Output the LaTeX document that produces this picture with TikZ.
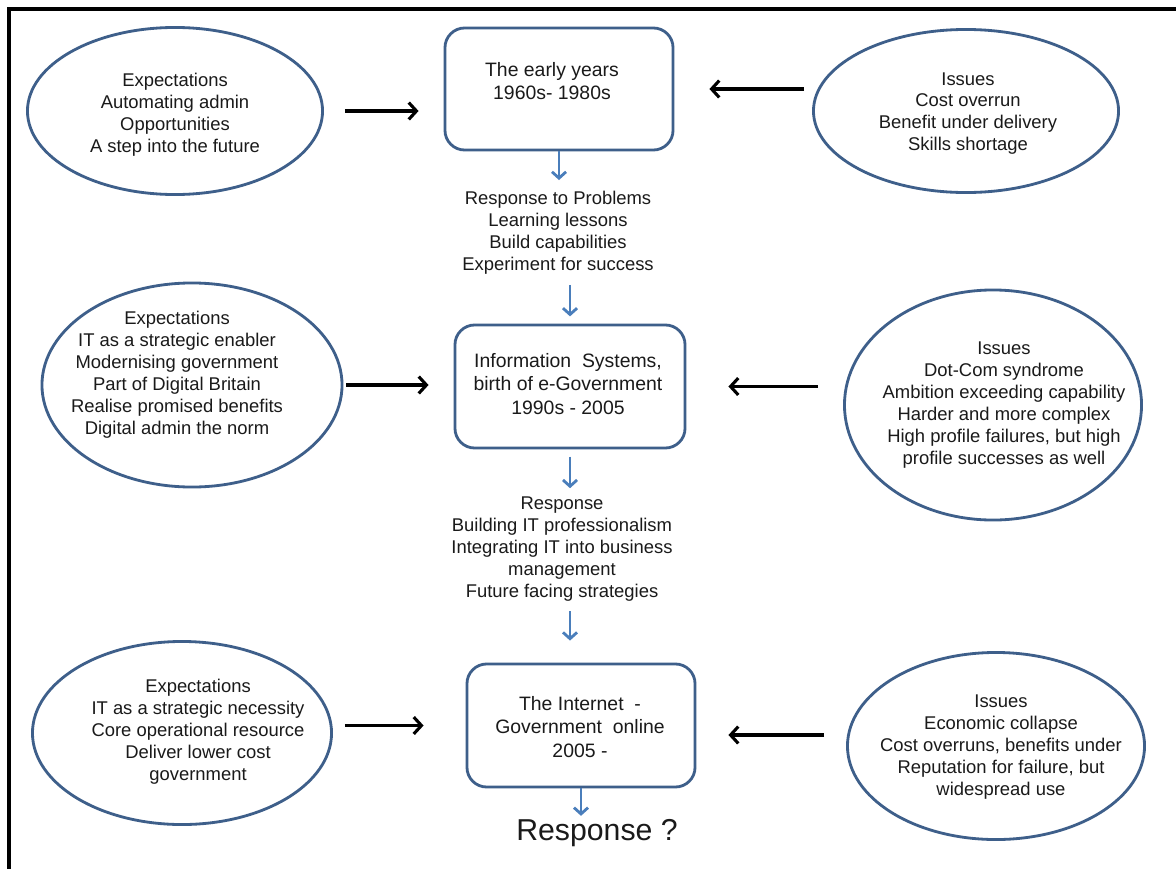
\documentclass[tikz,border=0pt]{standalone}
\usepackage{fontspec}
\setmainfont{Liberation Sans}
\usetikzlibrary{shapes.geometric,arrows.meta,calc}
\definecolor{edgeblue}{HTML}{3E5F8A}
\definecolor{arrowblue}{HTML}{4A7EBB}
\definecolor{txtgrey}{HTML}{1A1A1A}
\begin{document}
\begin{tikzpicture}[x=0.025cm,y=-0.025cm,
  oval/.style={draw=edgeblue, line width=2pt, ellipse, inner sep=0pt},
  era/.style={draw=edgeblue, line width=2pt, rounded corners=14pt, inner sep=0pt},
  body/.style={text=txtgrey, align=center, inner sep=0pt, font=\fontsize{13.1}{15.6}\selectfont},
  erabody/.style={text=txtgrey, align=center, inner sep=0pt, font=\fontsize{13.8}{16.6}\selectfont},
  arr/.style={-{Straight Barb[length=5.5pt,width=12pt]}, line width=2.2pt, black},
  barr/.style={-{Straight Barb[length=4.5pt,width=10pt]}, line width=2pt, arrowblue},
]
\useasboundingbox (0,0) rectangle (1176,868);
\clip (0,0) rectangle (1176,868);
\fill[white] (0,0) rectangle (1176,868);
\draw[line width=2.4pt] (9,9) rectangle (1250,950);

% ellipses
\node[oval, minimum width=7.375cm, minimum height=4.175cm] (e1) at (175,111) {};
\node[oval, minimum width=7.625cm, minimum height=4.075cm] (e4) at (966,111) {};
\node[oval, minimum width=7.5cm, minimum height=5.1cm] (e2) at (192,385) {};
\node[oval, minimum width=7.425cm, minimum height=5.75cm] (e5) at (993,405) {};
\node[oval, minimum width=7.475cm, minimum height=4.575cm] (e3) at (182,733) {};
\node[oval, minimum width=7.425cm, minimum height=4.675cm] (e6) at (996,746) {};

\node[body] (te1) at (175,114.5) {Expectations\\Automating admin\\Opportunities\\A step into the future};
\node[body] (te4) at (968,113.5) {Issues\\Cost overrun\\Benefit under delivery\\Skills shortage};
\node[body] (te2) at (177,375) {Expectations\\IT as a strategic enabler\\Modernising government\\Part of Digital Britain\\Realise promised benefits\\Digital admin the norm};
\node[body] (te5) at (1004,405) {Issues\\Dot-Com syndrome\\Ambition exceeding capability\\Harder and more complex\\High profile failures, but high\\profile successes as well};
\node[body] (te3) at (198,732) {Expectations\\IT as a strategic necessity\\Core operational resource\\Deliver lower cost\\government};
\node[body] (te6) at (1001,747) {Issues\\Economic collapse\\Cost overruns, benefits under\\Reputation for failure, but\\widespread use};

% era boxes
\node[era, minimum width=5.7cm, minimum height=3.05cm] (b1) at (559,89) {};
\node[era, minimum width=5.75cm, minimum height=3.075cm] (b2) at (570,386.5) {};
\node[era, minimum width=5.7cm, minimum height=3.075cm] (b3) at (581,725.5) {};

\node[erabody] (tb1) at (552,81) {The early years\\1960s- 1980s};
\node[erabody] (tb2) at (568,384) {Information\ \ Systems,\\birth of e-Government\\1990s - 2005};
\node[erabody] (tb3) at (580,727) {The Internet\ \ -\\Government\ \ online\\2005 -};

% responses
\node[body] (r1) at (558,233) {Response to Problems\\Learning lessons\\Build capabilities\\Experiment for success};
\node[body] (r2) at (562,549) {Response\\Building IT professionalism\\Integrating IT into business\\management\\Future facing strategies};
\node[text=txtgrey, inner sep=0pt, font=\fontsize{21.5}{24}\selectfont] (r3) at (597,833) {Response ?};

% black arrows
\draw[arr, shorten <=0.525cm, shorten >=0.625cm] (e1.east) -- (e1.east -| b1.west);
\draw[arr, shorten <=0.2cm, shorten >=0.875cm] (e4.west |- b1.east) -- (b1.east);
\draw[arr, shorten <=0.075cm, shorten >=0.625cm] (e2.east) -- (e2.east -| b2.west);
\draw[arr, shorten <=0.625cm, shorten >=1.05cm] (e5.west |- b2.east) -- (b2.east);
\draw[arr, shorten <=0.3cm, shorten >=1.05cm] (e3.east |- b3.west) -- (b3.west);
\coordinate (a6) at ($(e6.west)+(0,-11)$);
\draw[arr, shorten <=0.55cm, shorten >=0.8cm] (a6) -- (a6 -| b3.east);

% blue arrows
\draw[barr, shorten >=0.28cm] (b1.south) -- (b1.south |- r1.north);
\draw[barr, shorten <=0.25cm, shorten >=0.18cm] (b2.north |- r1.south) -- (b2.north);
\draw[barr, shorten <=0.18cm, shorten >=0.21cm] (b2.south) -- (b2.south |- r2.north);
\draw[barr, shorten <=0.25cm, shorten >=0.55cm] (b2.south |- r2.south) -- (b2.south |- b3.north);
\draw[barr, shorten >=0.08cm] (b3.south) -- (b3.south |- r3.north);
\end{tikzpicture}
\end{document}
